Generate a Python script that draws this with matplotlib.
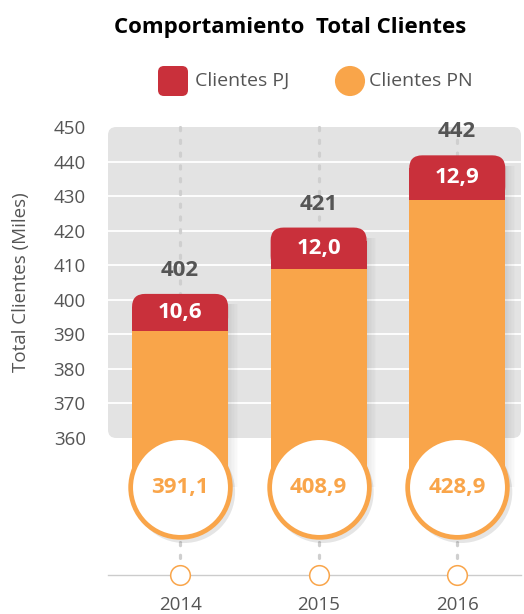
import numpy as np
import matplotlib
matplotlib.use("Agg")
import matplotlib.pyplot as plt
from matplotlib.patches import FancyBboxPatch, Rectangle

plt.rcParams['font.family'] = ['Open Sans', 'DejaVu Sans']

# data
years = ['2014', '2015', '2016']
clientes_pn = [391.1, 408.9, 428.9]
clientes_pj = [10.6, 12.0, 12.9]
totales = [402, 421, 442]
y_ticks = [360, 370, 380, 390, 400, 410, 420, 430, 440, 450]

RED = '#C9303B'
ORANGE = '#F9A54A'
PANEL = '#E3E3E3'
TXT = '#555555'

W, H = 524, 614
fig = plt.figure(figsize=(W / 100, H / 100), dpi=100)

# main axes = gray panel area (pixels 108..521 x, 127..438 y)
ax = fig.add_axes([108 / W, 1 - 438 / H, (521 - 108) / W, (438 - 127) / H])
ax.set_xlim(-0.52, 2.46)
ax.set_ylim(360, 450)
ax.set_facecolor('none')
for s in ax.spines.values():
    s.set_visible(False)

px_x = 138.5              # pixels per x unit
px_y = 311 / 90           # pixels per y unit
asp = px_x / px_y

panel = FancyBboxPatch((0, 0), 1, 1, boxstyle='round,pad=0,rounding_size=0.02',
                       mutation_aspect=413 / 311, transform=ax.transAxes,
                       facecolor=PANEL, edgecolor='none', zorder=0)
ax.add_patch(panel)
for v in y_ticks[1:-1]:
    ax.axhline(v, color='white', lw=1.3, zorder=1)

ax.set_yticks(y_ticks)
ax.set_yticklabels([str(v) for v in y_ticks], fontsize=13.5, color=TXT)
ax.tick_params(axis='y', length=0, pad=16)
ax.set_xticks([])
ax.set_ylabel('Total Clientes (Miles)', fontsize=13.5, color=TXT, labelpad=17)

x = np.arange(len(years))
bw = 96 / px_x
circ_y = 360 - 49 / px_y
small_y = 360 - 137 / px_y
bar_bottom = circ_y
r_px = 13

for i in x:
    total = clientes_pn[i] + clientes_pj[i]
    # dotted guide line above the bar
    ax.plot([i, i], [450, total], color='#CFCFCF', lw=2.3, ls=(0, (1, 3)),
            dash_capstyle='round', zorder=1, clip_on=False)
    # soft shadow on the right of the bar
    for k in range(7):
        ax.add_patch(Rectangle((i + bw / 2 + k * 1.4 / px_x, bar_bottom), 1.4 / px_x,
                               total - 3 - bar_bottom, facecolor='black',
                               alpha=0.09 * (1 - k / 7), edgecolor='none', zorder=2,
                               clip_on=False))
    # PJ segment with rounded top
    ax.add_patch(FancyBboxPatch((i - bw / 2, clientes_pn[i]), bw, clientes_pj[i],
                                boxstyle='round,pad=0,rounding_size=%f' % (r_px / px_x),
                                mutation_aspect=asp, facecolor=RED, edgecolor='none',
                                zorder=3, clip_on=False))
    ax.add_patch(Rectangle((i - bw / 2, clientes_pn[i]), bw, clientes_pj[i] - r_px / px_y,
                           facecolor=RED, edgecolor='none', zorder=3, clip_on=False))
    # PN segment
    ax.add_patch(Rectangle((i - bw / 2, bar_bottom), bw, clientes_pn[i] - bar_bottom,
                           facecolor=ORANGE, edgecolor='none', zorder=3, clip_on=False))

    ax.text(i, totales[i] + 6.6, str(totales[i]), ha='center', va='center',
            fontsize=16, fontweight='bold', color=TXT, zorder=5)
    ax.text(i, clientes_pn[i] + clientes_pj[i] / 2, ('%.1f' % clientes_pj[i]).replace('.', ','),
            ha='center', va='center', fontsize=16, fontweight='bold', color='white', zorder=5)

# circles at the bottom
ax.scatter(x + 4 / px_x, [circ_y - 5 / px_y] * 3, s=5400, color='black', alpha=0.10,
           edgecolor='none', zorder=4, clip_on=False)
ax.scatter(x, [circ_y] * 3, s=5150, facecolor='white', edgecolor=ORANGE, linewidth=3.4,
           zorder=5, clip_on=False)
for i in x:
    ax.text(i, circ_y, ('%.1f' % clientes_pn[i]).replace('.', ','), ha='center', va='center',
            fontsize=16, fontweight='bold', color=ORANGE, zorder=6)
    ax.plot([i, i], [360 - 104 / px_y, 360 - 125 / px_y], color='#CFCFCF', lw=2.3,
            ls=(0, (1, 3)), dash_capstyle='round', zorder=1, clip_on=False)
    ax.text(i, 360 - 167 / px_y, years[i], ha='center', va='center', fontsize=13.5,
            color=TXT, zorder=6)

# timeline
ax.plot([-0.52, 2.46], [small_y, small_y], color='#CCCCCC', lw=1, zorder=1, clip_on=False)
ax.scatter(x, [small_y] * 3, s=200, facecolor='white', edgecolor=ORANGE, linewidth=1.1,
           zorder=5, clip_on=False)

# title and legend in pixel overlay
ov = fig.add_axes([0, 0, 1, 1])
ov.set_xlim(0, W)
ov.set_ylim(H, 0)
ov.axis('off')
ov.text(290, 27, 'Comportamiento  Total Clientes', ha='center', va='center',
        fontsize=16, fontweight='bold', color='black')
ov.add_patch(FancyBboxPatch((158, 66), 30, 30, boxstyle='round,pad=0,rounding_size=6',
                            facecolor=RED, edgecolor='none'))
ov.text(195, 81, 'Clientes PJ', ha='left', va='center', fontsize=14, color=TXT)
ov.scatter([350], [81], s=470, color=ORANGE, edgecolor='none')
ov.text(369, 81, 'Clientes PN', ha='left', va='center', fontsize=14, color=TXT)

fig.savefig('out.png', dpi=100)
